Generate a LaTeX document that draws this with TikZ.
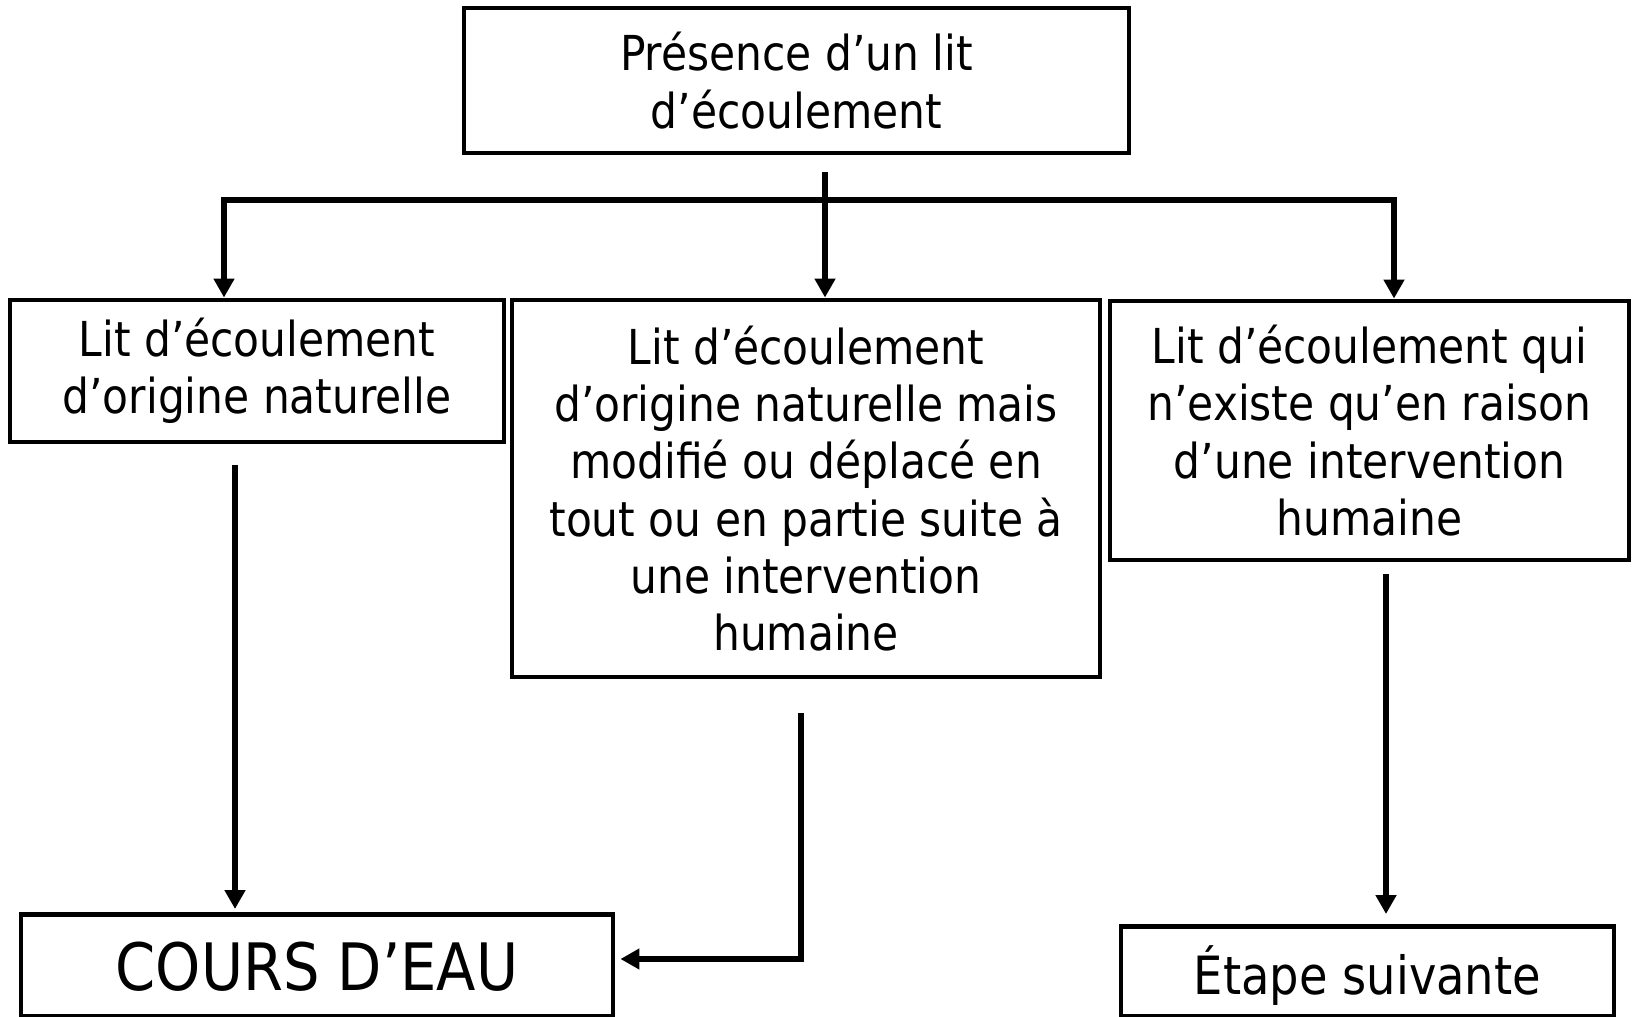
\documentclass[tikz,border=0pt]{standalone}
\usepackage{fontspec}
\setmainfont{DejaVu Sans}[FakeStretch=0.88]
\usetikzlibrary{arrows.meta}
\tikzset{
  box/.style={draw, line width=1.4pt, inner sep=0pt, align=center, font=\fontsize{13.7}{16.3}\selectfont},
  endbox/.style={draw, line width=1.4pt, inner xsep=0pt, inner ysep=0.05cm, anchor=north},
  link/.style={line width=1.5pt, -{Triangle[length=0.19cm,width=0.2cm]}},
  twolink/.style={line width=1.5pt, {Triangle[length=0.19cm,width=0.2cm]}-{Triangle[length=0.19cm,width=0.2cm]}},
}

\begin{document}
\begin{tikzpicture}
\clip (0,0) rectangle (16.37,10.16);
\node[box,minimum width=6.65cm,minimum height=1.45cm] (lit) at (7.965,9.355) {Présence d’un lit\\d’écoulement};
\node[box,minimum width=4.94cm,minimum height=1.42cm] (naturel) at (2.57,6.45) {Lit d’écoulement\\d’origine naturelle};
\node[box,minimum width=5.88cm,minimum height=3.77cm] (modifie) at (8.06,5.275) {Lit d’écoulement\\d’origine naturelle mais\\modifié ou déplacé en\\tout ou en partie suite à\\une intervention\\humaine};
\node[box,minimum width=5.19cm,minimum height=2.59cm] (humain) at (13.695,5.855) {Lit d’écoulement qui\\n’existe qu’en raison\\d’une intervention\\humaine};
\node[endbox,minimum width=5.92cm,text height=0.71cm,text depth=0.21cm,
  font=\fontsize{18.6}{22}\selectfont] (cours) at (3.17,1.04) {COURS D’EAU};
\node[endbox,minimum width=4.93cm,text height=0.63cm,text depth=0.17cm,
  font=\fontsize{15}{18}\selectfont] (etape) at (13.675,0.92) {Étape suivante};

\coordinate (split) at (8.25,8.44);
\coordinate (hl) at (2.24,8.16);
\coordinate (hr) at (13.94,8.16);
\coordinate (nat) at (2.35,5.51);
\coordinate (mod) at (8.01,3.03);
\coordinate (modb) at (8.01,0.57);
\coordinate (hum) at (13.86,4.42);

\draw[link] (split) -- (split |- modifie.north);
\draw[twolink] (hl |- naturel.north) -- (hl) -- (hr) -- (hr |- humain.north);
\draw[link,shorten >=0.03cm] (nat) -- (nat |- cours.north);
\draw[link,shorten >=0.05cm] (mod) -- (modb) -- (modb -| cours.east);
\draw[link,shorten >=0.1cm] (hum) -- (hum |- etape.north);
\end{tikzpicture}
\end{document}
